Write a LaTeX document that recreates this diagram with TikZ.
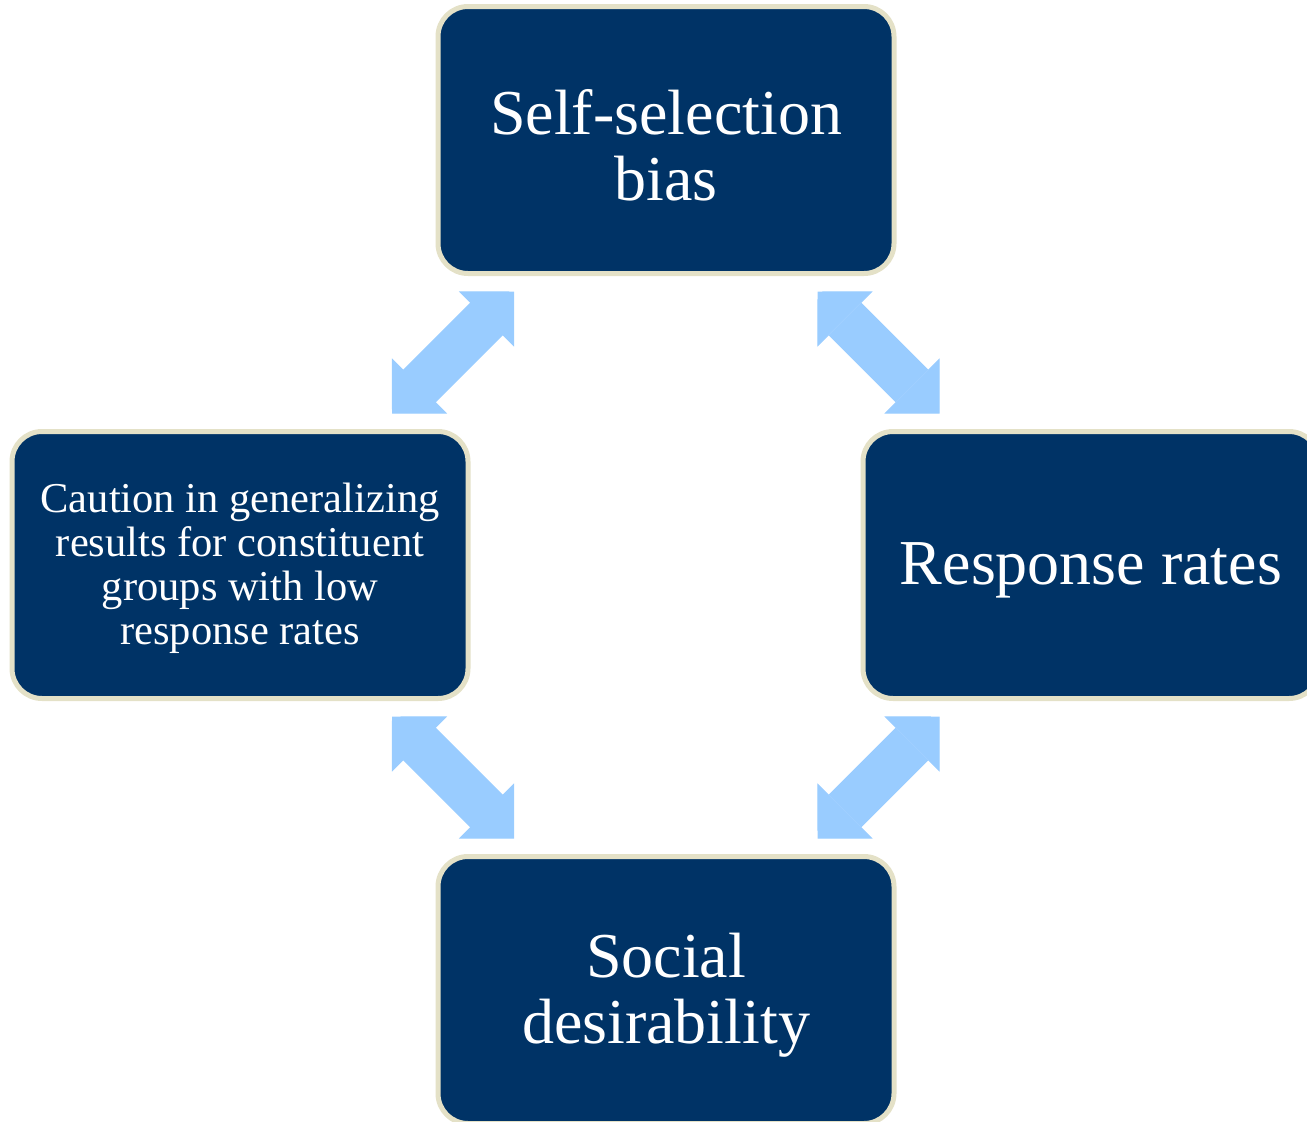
\documentclass[tikz,border=0pt]{standalone}
\usepackage{fontspec}
\setmainfont{Liberation Serif}
\usetikzlibrary{calc,arrows.meta}
\definecolor{boxblue}{RGB}{0,51,102}
\definecolor{boxrim}{RGB}{228,225,199}
\definecolor{arrowblue}{RGB}{153,204,255}
\tikzset{
  topic/.style={rectangle,rounded corners=30pt,draw=boxrim,line width=5pt,fill=boxblue,
    minimum width=456pt,minimum height=267pt,inner sep=0pt},
  topictext/.style={text=white,align=center,inner sep=0pt},
  bigtext/.style={topictext,font=\fontsize{64}{66}\selectfont},
  smalltext/.style={topictext,font=\fontsize{42.5}{44}\selectfont},
  dblarrow/.style={draw=arrowblue,line width=46pt,
    {Triangle[length=39pt,width=78pt,line width=1pt]}-{Triangle[length=39pt,width=78pt,line width=1pt]}}
}
\begin{document}
\begin{tikzpicture}[x=1pt,y=-1pt]
  \useasboundingbox (0,0) rectangle (1307,1122);
  \clip (0,0) rectangle (1307,1122);
  \node[topic] (b1) at (666,140) {};
  \node[topic] (b2) at (240,565) {};
  \node[topic] (b3) at (1091,565) {};
  \node[topic] (b4) at (666,990) {};
  \node[bigtext] (t1) at ($(b1)+(0,5)$) {Self-selection\\bias};
  \node[smalltext] (t2) at ($(b2)+(0,3)$) {Caution in generalizing\\results for constituent\\groups with low\\response rates};
  \node[bigtext] (t3) at ($(b3)+(0,5)$) {Response rates};
  \node[bigtext] (t4) at ($(b4)+(0,5)$) {Social\\desirability};
  \draw[dblarrow] ($(b1)!0.5!(b2)+(-61,61)$) -- ($(b1)!0.5!(b2)+(61,-61)$);
  \draw[dblarrow] ($(b1)!0.5!(b3)+(-61,-61)$) -- ($(b1)!0.5!(b3)+(61,61)$);
  \draw[dblarrow] ($(b2)!0.5!(b4)+(-61,-61)$) -- ($(b2)!0.5!(b4)+(61,61)$);
  \draw[dblarrow] ($(b3)!0.5!(b4)+(61,-61)$) -- ($(b3)!0.5!(b4)+(-61,61)$);
\end{tikzpicture}
\end{document}
